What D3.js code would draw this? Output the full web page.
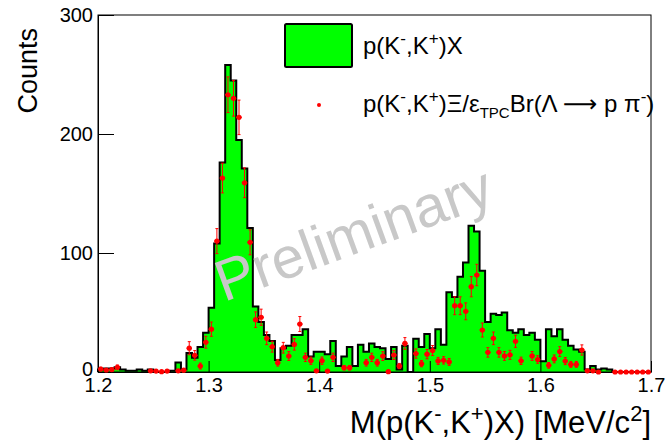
<!DOCTYPE html>
<html>
<head>
<meta charset="utf-8">
<script src="https://cdn.jsdelivr.net/npm/d3@7"></script>
<style>
  body { margin: 0; background: #fff; }
  svg { display: block; font-family: "Liberation Sans", Arial, Helvetica, sans-serif; }
</style>
</head>
<body>
<svg id="chart" width="667" height="446"></svg>
<script>
// Invariant mass binning
const massMin = 1.2;
const massMax = 1.7;
const binWidth = 0.005;

const xTickValues = [1.2, 1.3, 1.4, 1.5, 1.6, 1.7];
const yTickValues = [0, 100, 200, 300];

// p(K-,K+)X spectrum, counts per 5 MeV bin
const histCounts = [
  2, 3, 3, 4, 2, 1, 1, 2, 1, 2,
  0, 0, 0, 1, 8, 2, 16, 12, 21, 33,
  54, 108, 176, 258, 245, 195, 171, 121, 55, 42,
  31, 26, 10, 20, 22, 31, 31, 36, 13, 17,
  17, 15, 26, 5, 13, 21, 5, 23, 17, 24,
  21, 20, 11, 21, 2, 22, 0, 28, 21, 32,
  20, 36, 23, 67, 63, 80, 92, 123, 118, 85,
  42, 49, 48, 50, 35, 33, 36, 31, 33, 27,
  9, 36, 30, 36, 27, 22, 19, 17, 2, 5,
  2, 3, 2, 0, 0, 0, 0, 0, 0, 0
];

// p(K-,K+)Xi corrected by TPC efficiency and Lambda branching ratio (null = not drawn)
const xiCounts = [
  2.5, 1.7, 2, 3.9, null, null, null, null, null, 1,
  0.8, 0.3, 0.8, null, 1, 1.5, 20, 14, 5, 25,
  36, 110, 163, 233, 230, 214, 159, 109, 44, 46,
  28.3, 21.3, 7.8, 20.4, 13.4, 23.2, 40.3, 12.3, 9.5, 1,
  9.5, 0.8, 12.3, null, 3.6, 3.6, null, null, 7.8, 12.3,
  7.8, 13.4, 0.3, 14.3, 5, 24, null, 15.5, 7, 15,
  18, 9.3, 9.8, 8.5, 55.7, 55.7, 51, 71.7, 81.5, 35.3,
  16.5, 28.3, 16.5, 13.5, 14.4, 25.8, 9.4, null, 13.5, 10.5,
  null, 5.6, 11, 17.2, 9.2, 6.4, 6.4, 18.5, 1, 1,
  0, null, null, 0, 0, 0, 0, 0, 0, 0
];

const xiErrors = [
  1.5, 1.2, 1.4, 2, 0, 0, 0, 0, 0, 1,
  0.8, 0.5, 0.8, 0, 1, 1.2, 5.5, 4, 2.5, 5,
  6, 10.5, 12.5, 15, 15, 14.5, 12.5, 10.5, 6.5, 6.8,
  5.3, 4.6, 2.8, 4.5, 3.7, 4.8, 6.3, 3.5, 3.1, 1,
  3.1, 0.9, 3.5, 0, 1.9, 1.9, 0, 0, 2.8, 3.5,
  2.8, 3.7, 0.5, 3.8, 2.2, 4.9, 0, 3.9, 2.6, 3.9,
  4.2, 3, 3.1, 2.9, 7.5, 7.5, 7.1, 8.5, 9, 5.9,
  4, 5.3, 4, 3.7, 3.8, 5.1, 3.1, 0, 3.7, 3.2,
  0, 2.4, 3.3, 4.1, 3, 2.5, 2.5, 4.3, 1, 1,
  0, 0, 0, 0, 0, 0, 0, 0, 0, 0
];

const svg = d3.select("#chart");
const frame = { left: 98, right: 651, top: 15, bottom: 372 };

const x = d3.scaleLinear().domain([massMin, massMax]).range([frame.left, frame.right]);
const y = d3.scaleLinear().domain([0, 300]).range([frame.bottom, frame.top]);

const bins = histCounts.map((c, i) => ({
  lo: massMin + i * binWidth,
  hi: massMin + (i + 1) * binWidth,
  count: c
}));

// Step outline of the histogram
const stepPts = [[x(massMin), y(0)]];
bins.forEach(b => {
  stepPts.push([x(b.lo), y(b.count)]);
  stepPts.push([x(b.hi), y(b.count)]);
});
stepPts.push([x(massMax), y(0)]);
const line = d3.line();

svg.append("path")
  .attr("d", line(stepPts) + "Z")
  .attr("fill", "#00ff00")
  .attr("stroke", "none");
svg.append("path")
  .attr("d", line(stepPts))
  .attr("fill", "none")
  .attr("stroke", "#000")
  .attr("stroke-width", 2)
  .attr("stroke-linejoin", "miter");

// Frame
svg.append("rect")
  .attr("x", frame.left).attr("y", frame.top)
  .attr("width", frame.right - frame.left)
  .attr("height", frame.bottom - frame.top)
  .attr("fill", "none").attr("stroke", "#000").attr("stroke-width", 1);

// Axes with inward ticks
const yAxis = d3.axisLeft(y).tickValues(yTickValues).tickFormat(d3.format("d"))
  .tickSizeInner(-16).tickSizeOuter(0);
const gy = svg.append("g").attr("transform", `translate(${frame.left},0)`).call(yAxis);
gy.select(".domain").attr("stroke", "#000");
gy.selectAll(".tick line").attr("stroke", "#000");
gy.selectAll(".tick text").attr("x", -5).attr("font-size", 20).attr("fill", "#000")
  .attr("font-family", "'Liberation Sans', Arial, sans-serif")
  .attr("dy", d => d === 0 ? "0.18em" : "0.32em");

const xAxis = d3.axisBottom(x).tickValues(xTickValues).tickFormat(d3.format(".1f"))
  .tickSizeInner(-11).tickSizeOuter(0);
const gx = svg.append("g").attr("transform", `translate(0,${frame.bottom})`).call(xAxis);
gx.select(".domain").attr("stroke", "#000");
gx.selectAll(".tick line").attr("stroke", "#000");
gx.selectAll(".tick text").attr("y", 6).attr("font-size", 20).attr("fill", "#000")
  .attr("font-family", "'Liberation Sans', Arial, sans-serif");

// Efficiency-corrected Xi points with error bars
const pts = xiCounts.map((v, i) => ({ v, e: xiErrors[i], b: bins[i] })).filter(d => d.v !== null);
const gp = svg.append("g");
pts.forEach(d => {
  const cx = x((d.b.lo + d.b.hi) / 2);
  const cy = y(d.v);
  if (d.e > 0) {
    const y1 = y(d.v + d.e), y2 = y(Math.max(0, d.v - d.e));
    gp.append("line").attr("x1", cx).attr("x2", cx).attr("y1", y1).attr("y2", y2)
      .attr("stroke", "#ff0000").attr("stroke-width", 1);
    [y1, y2].forEach(yy => gp.append("line")
      .attr("x1", cx - 1.5).attr("x2", cx + 1.5).attr("y1", yy).attr("y2", yy)
      .attr("stroke", "#ff0000").attr("stroke-width", 1));
  }
  gp.append("line").attr("x1", x(d.b.lo)).attr("x2", x(d.b.hi)).attr("y1", cy).attr("y2", cy)
    .attr("stroke", "#ff0000").attr("stroke-width", 1.2);
  gp.append("circle").attr("cx", cx).attr("cy", cy).attr("r", 2.6).attr("fill", "#ff0000");
});

// Axis titles
const xt = svg.append("text").attr("x", 651).attr("y", 433).attr("text-anchor", "end")
  .attr("font-size", 31).attr("fill", "#000");
xt.append("tspan").text("M(p(K");
xt.append("tspan").attr("dy", -12).attr("font-size", 22).text("-");
xt.append("tspan").attr("dy", 12).text(",K");
xt.append("tspan").attr("dy", -12).attr("font-size", 22).text("+");
xt.append("tspan").attr("dy", 12).text(")X) [MeV/c");
xt.append("tspan").attr("dy", -12).attr("font-size", 22).text("2");
xt.append("tspan").attr("dy", 12).text("]");

svg.append("text").attr("transform", "translate(37,28) rotate(-90)")
  .attr("text-anchor", "end").attr("font-size", 27).attr("fill", "#000").text("Counts");

// Legend
svg.append("rect").attr("x", 285).attr("y", 24).attr("width", 67).attr("height", 43)
  .attr("rx", 1.5).attr("fill", "#00ff00").attr("stroke", "#000").attr("stroke-width", 2);
const l1 = svg.append("text").attr("x", 363).attr("y", 54).attr("font-size", 24).attr("fill", "#000");
l1.append("tspan").text("p(K");
l1.append("tspan").attr("dy", -10).attr("font-size", 17).text("-");
l1.append("tspan").attr("dy", 10).text(",K");
l1.append("tspan").attr("dy", -10).attr("font-size", 17).text("+");
l1.append("tspan").attr("dy", 10).text(")X");

svg.append("circle").attr("cx", 319).attr("cy", 105).attr("r", 2).attr("fill", "#ff0000");
const l2 = svg.append("text").attr("x", 363).attr("y", 112).attr("font-size", 24).attr("fill", "#000");
l2.append("tspan").text("p(K");
l2.append("tspan").attr("dy", -10).attr("font-size", 17).text("-");
l2.append("tspan").attr("dy", 10).text(",K");
l2.append("tspan").attr("dy", -10).attr("font-size", 17).text("+");
l2.append("tspan").attr("dy", 10).text(")Ξ/ε");
l2.append("tspan").attr("dy", 6).attr("font-size", 15).text("TPC");
l2.append("tspan").attr("dy", -6).text("Br(Λ ");
l2.append("tspan").attr("font-family", "'DejaVu Sans', sans-serif").text("⟶");
l2.append("tspan").text(" p π");
l2.append("tspan").attr("dy", -10).attr("font-size", 17).text("-");
l2.append("tspan").attr("dy", 10).text(")");

// Watermark
svg.append("text").attr("transform", "translate(224,302) rotate(-20)")
  .attr("font-size", 58).attr("fill", "#c8c8c8").text("Preliminary");
</script>
</body>
</html>
